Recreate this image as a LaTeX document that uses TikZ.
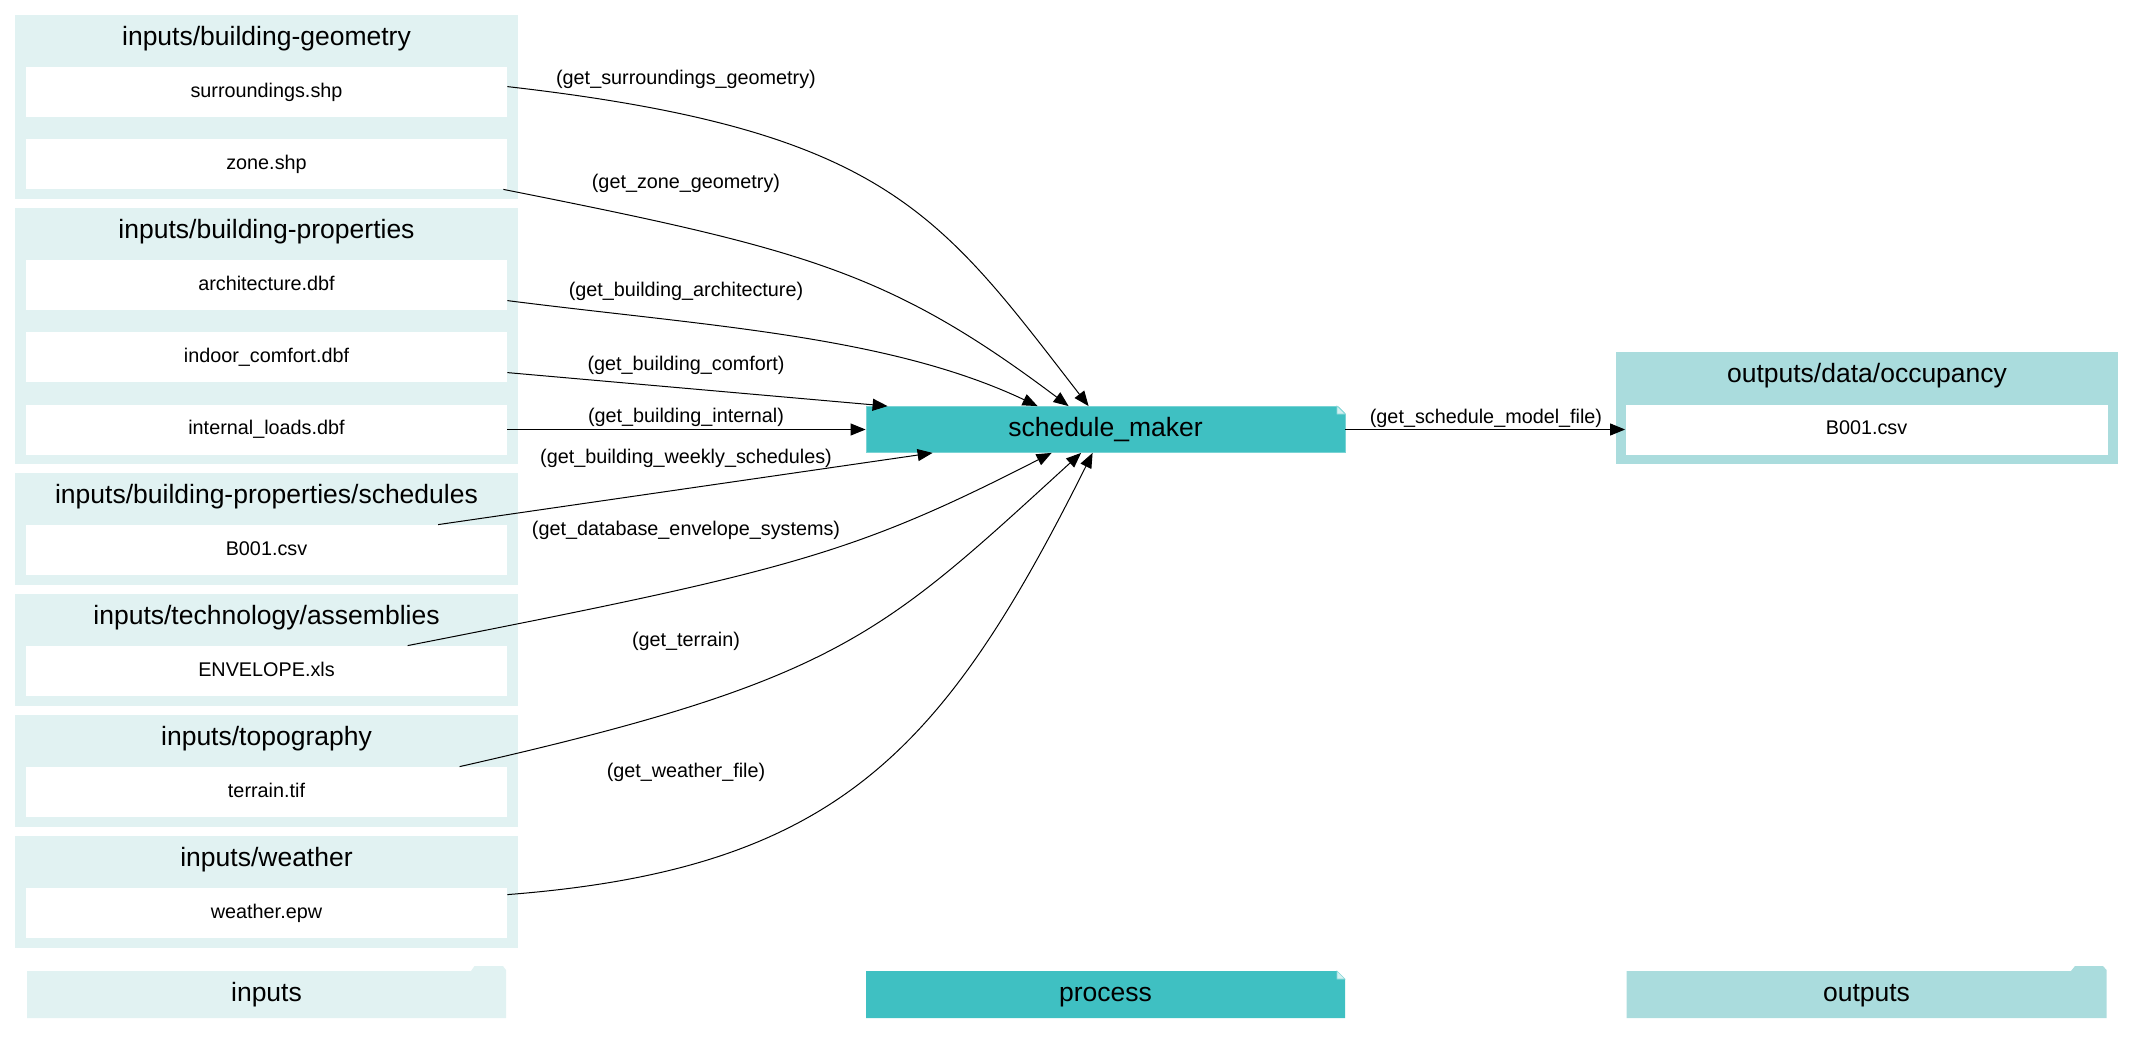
\documentclass[tikz,border=0pt]{standalone}
\usepackage{fontspec}
\setmainfont{Liberation Sans}
\usetikzlibrary{arrows.meta,calc}
\definecolor{incol}{HTML}{E1F2F2}
\definecolor{proccol}{HTML}{3FC0C2}
\definecolor{outcol}{HTML}{AADCDD}
\definecolor{foldcol}{HTML}{D5F0F0}
\begin{document}
\begin{tikzpicture}[x=0.5pt,y=-0.5pt,
  big/.style={font=\fontsize{13.25}{16}\selectfont, text height=9.6pt, text depth=2.6pt, inner sep=0pt},
  small/.style={font=\fontsize{9.9}{12}\selectfont, text height=7.2pt, text depth=2pt, inner sep=0pt},
  infile/.style={small, fill=white, minimum width=240.5pt, minimum height=25pt},
  outfile/.style={small, fill=white, minimum width=241pt, minimum height=25pt},
  proc/.style={big, fill=proccol, draw=proccol!70!white, line width=0.4pt, minimum width=239.5pt, minimum height=23pt},
  conn/.style={line width=0.5pt, -{Triangle[length=7.5pt,width=6pt]}},
  elabel/.style={small}]
\useasboundingbox (0,0) rectangle (2133,1045);

% input clusters
\fill[incol] (15,15) rectangle (518,199);
\fill[incol] (15,208) rectangle (518,464);
\fill[incol] (15,473) rectangle (518,585);
\fill[incol] (15,594) rectangle (518,706);
\fill[incol] (15,715) rectangle (518,827);
\fill[incol] (15,836) rectangle (518,948);
% output cluster
\fill[outcol] (1616,352) rectangle (2118,464);

% cluster titles
\node[big] (t1) at (266.5,38) {inputs/building-geometry};
\node[big] (t2) at (266.5,231) {inputs/building-properties};
\node[big] (t3) at (266.5,496) {inputs/building-properties/schedules};
\node[big] (t4) at (266.5,617) {inputs/technology/assemblies};
\node[big] (t5) at (266.5,738) {inputs/topography};
\node[big] (t6) at (266.5,859) {inputs/weather};
\node[big] (t7) at (1867,375) {outputs/data/occupancy};

% file nodes
\node[infile] (surr) at (266.5,92) {surroundings.shp};
\node[infile] (zone) at (266.5,164) {zone.shp};
\node[infile] (arch) at (266.5,285) {architecture.dbf};
\node[infile] (comf) at (266.5,357) {indoor\_comfort.dbf};
\node[infile] (intl) at (266.5,429.5) {internal\_loads.dbf};
\node[infile] (sched) at (266.5,550) {B001.csv};
\node[infile] (env) at (266.5,671) {ENVELOPE.xls};
\node[infile] (terr) at (266.5,792) {terrain.tif};
\node[infile] (weath) at (266.5,913) {weather.epw};
\node[outfile] (occ) at (1866.5,429.5) {B001.csv};

% process node
\node[proc] (sm) at (1105.5,429.5) {schedule\_maker};
\fill[white] (1337,405) -- (1346,405) -- (1346,414) -- cycle;
\filldraw[fill=foldcol, draw=proccol!60!white, line width=0.3pt] (1337,406) -- (1345,414) -- (1337,414) -- cycle;

% connectors
\draw[conn] ($(surr.north east)+(0,20)$) .. controls (887,130) and (939,213) .. ($(sm.north west)+(223,0)$);
\draw[conn] ($(zone.south east)+(-4,0)$) .. controls (803,249) and (889,271) .. ($(sm.north west)+(203,0)$);
\draw[conn] ($(arch.north east)+(0,41)$) .. controls (707,326) and (888,335.5) .. ($(sm.north west)+(172,0)$);
\draw[conn] ($(comf.north east)+(0,41)$) -- ($(sm.north west)+(22,0)$);
\draw[conn] (intl.east) -- (sm.west);
\draw[conn] ($(sched.north west)+(412.5,0)$) -- ($(sm.south west)+(67,0)$);
\draw[conn] ($(env.north west)+(382,0)$) .. controls (788,571) and (852,555) .. ($(sm.south west)+(186,0)$);
\draw[conn] ($(terr.north west)+(434,0)$) .. controls (840,680.6) and (881.5,635) .. ($(sm.south west)+(215.5,0)$);
\draw[conn] ($(weath.north east)+(0,7)$) .. controls (837,869) and (943,752) .. ($(sm.south west)+(227,0)$);
\draw[conn] (sm.east) -- (occ.west);

% connector labels
\node[elabel] (l1) at (686,79) {(get\_surroundings\_geometry)};
\node[elabel] (l2) at (686,183) {(get\_zone\_geometry)};
\node[elabel] (l3) at (686,291) {(get\_building\_architecture)};
\node[elabel] (l4) at (686,365) {(get\_building\_comfort)};
\node[elabel] (l5) at (686,417) {(get\_building\_internal)};
\node[elabel] (l6) at (686,458) {(get\_building\_weekly\_schedules)};
\node[elabel] (l7) at (686,530) {(get\_database\_envelope\_systems)};
\node[elabel] (l8) at (686,641) {(get\_terrain)};
\node[elabel] (l9) at (686,772) {(get\_weather\_file)};
\node[elabel] (l10) at (1486,418) {(get\_schedule\_model\_file)};

% legend
\fill[incol] (27,971) -- (471,971) -- (474.5,966) -- (503,966) -- (506,970) -- (506,1018) -- (27,1018) -- cycle;
\node[big] (legin) at (266.5,994.5) {inputs};
\fill[proccol] (866,971) -- (1337,971) -- (1345,979) -- (1345,1018) -- (866,1018) -- cycle;
\filldraw[fill=foldcol, draw=proccol!60!white, line width=0.3pt] (1337,971) -- (1345,979) -- (1337,979) -- cycle;
\node[big] (legproc) at (1105.5,994.5) {process};
\fill[outcol] (1626.5,971) -- (2071,971) -- (2075,966) -- (2103,966) -- (2106.5,970) -- (2106.5,1018) -- (1626.5,1018) -- cycle;
\node[big] (legout) at (1866.5,994.5) {outputs};
\end{tikzpicture}
\end{document}
